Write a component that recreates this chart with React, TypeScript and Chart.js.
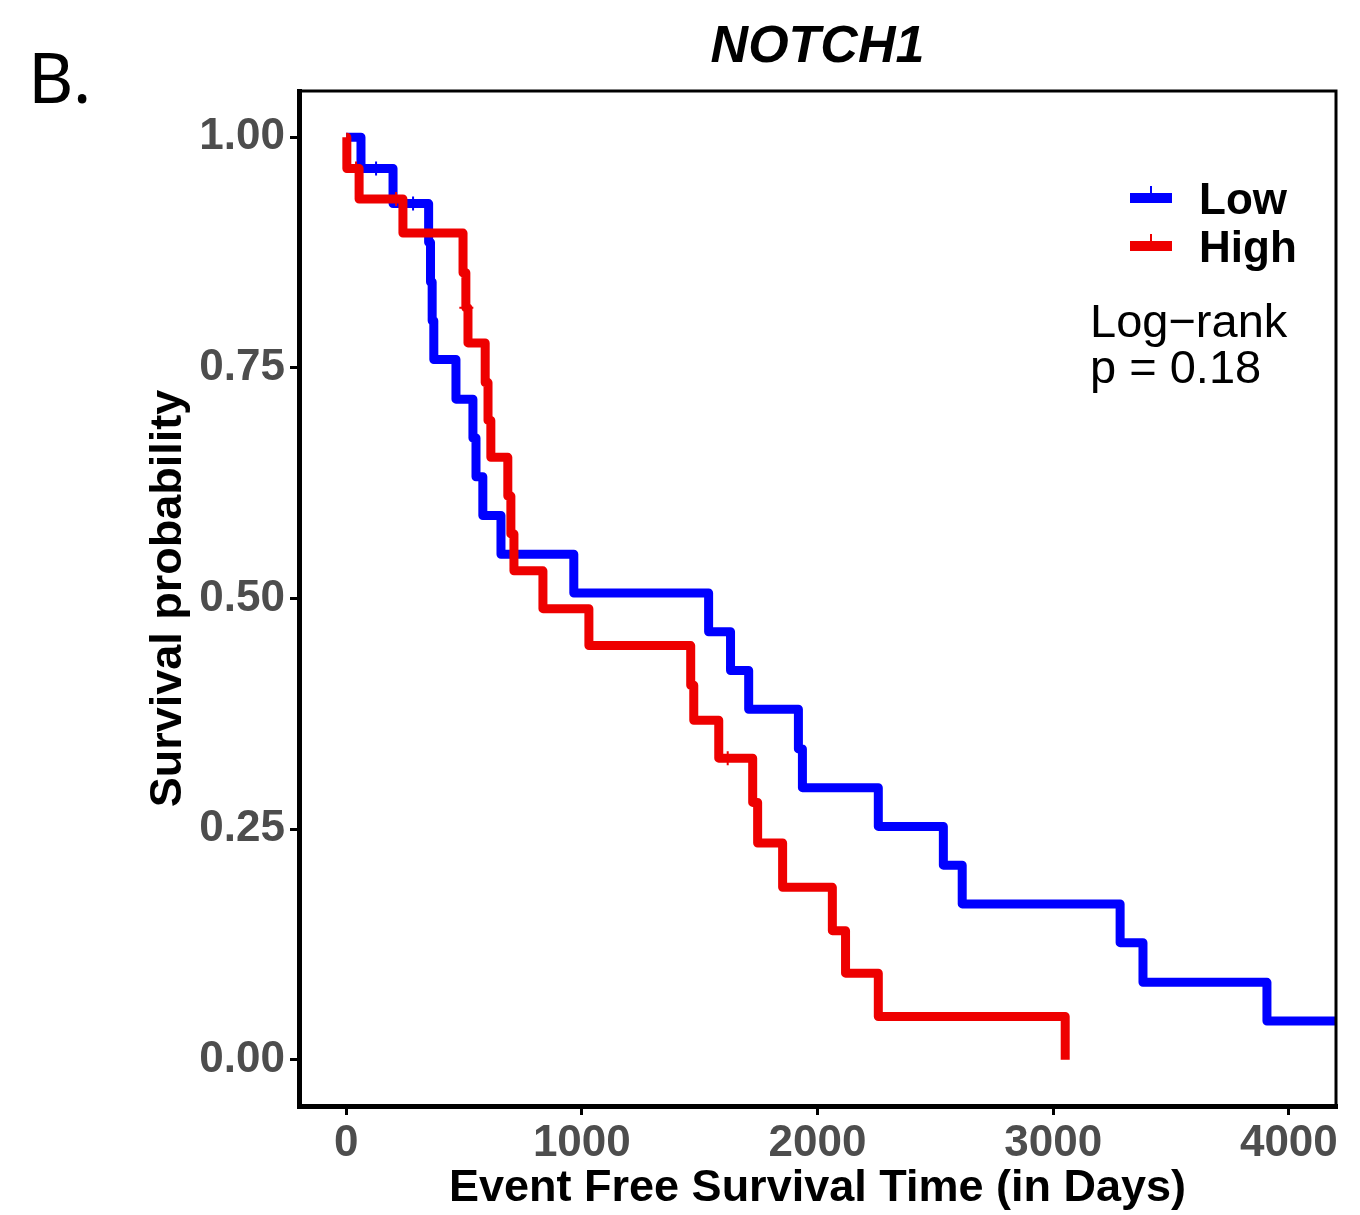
import React, { useEffect, useRef } from 'react';
import { Chart, registerables } from 'chart.js';

Chart.register(...registerables);

// ---- data ----
const lowTime = [0, 63, 199, 350, 358, 365, 372, 466, 538, 551, 580, 657, 966, 1538, 1631, 1708, 1919, 1936, 2258, 2534, 2614, 3284, 3381, 3907, 4200];
const lowSurv = [1.0, 0.966, 0.928, 0.886, 0.843, 0.801, 0.759, 0.716, 0.674, 0.632, 0.59, 0.548, 0.506, 0.464, 0.422, 0.38, 0.337, 0.295, 0.253, 0.211, 0.169, 0.127, 0.084, 0.042, 0.042];
const highTime = [0, 3, 55, 241, 496, 508, 517, 590, 602, 614, 686, 699, 712, 835, 1030, 1462, 1475, 1581, 1725, 1746, 1852, 2063, 2119, 2258, 3051];
const highSurv = [1.0, 0.966, 0.933, 0.896, 0.853, 0.815, 0.777, 0.734, 0.693, 0.653, 0.611, 0.57, 0.53, 0.489, 0.449, 0.406, 0.368, 0.327, 0.279, 0.235, 0.187, 0.14, 0.094, 0.047, 0.0];
const lowCensorTime = [127, 284];
const lowCensorSurv = [0.966, 0.928];
const highCensorTime = [42, 212, 510, 1619];
const highCensorSurv = [0.966, 0.933, 0.815, 0.327];
const xTicks = [0, 1000, 2000, 3000, 4000];
const yTicks = [0, 0.25, 0.5, 0.75, 1.0];
const groupLabels = ['Low', 'High'];
const groupColors = ['#0000FF', '#EE0000'];
const titleText = 'NOTCH1';
const panelLabel = 'B.';
const pValueLines = ['Log\u2212rank', 'p = 0.18'];
const xTitle = 'Event Free Survival Time (in Days)';
const yTitle = 'Survival probability';

const FONT = '"Liberation Sans", Arial, sans-serif';

const toPoints = (xs: number[], ys: number[]) => xs.map((x, i) => ({ x, y: ys[i] }));

const overlay = {
  id: 'overlay',
  afterDraw(chart: any) {
    const ctx = chart.ctx as CanvasRenderingContext2D;
    const a = chart.chartArea;
    ctx.save();
    // panel border
    ctx.strokeStyle = '#000';
    ctx.lineWidth = 3;
    ctx.strokeRect(a.left, a.top, a.right - a.left, a.bottom - a.top);
    // title
    ctx.fillStyle = '#000';
    ctx.textAlign = 'center';
    ctx.textBaseline = 'alphabetic';
    ctx.font = `italic bold 52px ${FONT}`;
    ctx.fillText(titleText, (a.left + a.right) / 2, 62);
    // panel label
    ctx.textAlign = 'left';
    ctx.font = `70px "Noto Sans", sans-serif`;
    ctx.fillText(panelLabel, 28, 103);
    // x title
    ctx.textAlign = 'center';
    ctx.font = `bold 45px ${FONT}`;
    ctx.fillText(xTitle, (a.left + a.right) / 2, 1201);
    // y title
    ctx.save();
    ctx.translate(181, (a.top + a.bottom) / 2);
    ctx.rotate(-Math.PI / 2);
    ctx.fillText(yTitle, 0, 0);
    ctx.restore();
    // legend
    const ly = [198, 246];
    groupLabels.forEach((lab, i) => {
      ctx.strokeStyle = groupColors[i];
      ctx.lineWidth = 10;
      ctx.lineCap = 'butt';
      ctx.beginPath();
      ctx.moveTo(1130, ly[i]);
      ctx.lineTo(1172, ly[i]);
      ctx.stroke();
      ctx.lineWidth = 2;
      ctx.beginPath();
      ctx.moveTo(1151, ly[i] - 12);
      ctx.lineTo(1151, ly[i]);
      ctx.stroke();
      ctx.fillStyle = '#000';
      ctx.textAlign = 'left';
      ctx.font = `bold 44px ${FONT}`;
      ctx.fillText(lab, 1199, ly[i] + 16);
    });
    // log-rank
    ctx.font = `47px ${FONT}`;
    ctx.fillText(pValueLines[0], 1090, 337);
    ctx.fillText(pValueLines[1], 1090, 383);
    ctx.restore();
  },
};

export default function App() {
  const ref = useRef<HTMLCanvasElement | null>(null);
  useEffect(() => {
    if (!ref.current) return;
    const chart = new Chart(ref.current, {
      type: 'line',
      data: {
        datasets: [
          {
            label: groupLabels[1],
            data: toPoints(highTime, highSurv),
            borderColor: groupColors[1],
            borderWidth: 9,
            stepped: 'before',
            pointRadius: 0,
            fill: false,
            borderJoinStyle: 'round',
            borderCapStyle: 'butt',
            order: 1,
          },
          {
            label: groupLabels[0],
            data: toPoints(lowTime, lowSurv),
            borderColor: groupColors[0],
            borderWidth: 9,
            stepped: 'before',
            pointRadius: 0,
            fill: false,
            borderJoinStyle: 'round',
            borderCapStyle: 'butt',
            order: 2,
          },
          {
            label: 'lowCensor',
            data: toPoints(lowCensorTime, lowCensorSurv),
            showLine: false,
            pointStyle: 'cross',
            pointRadius: 7,
            pointBorderWidth: 2,
            pointBorderColor: groupColors[0],
            borderColor: groupColors[0],
            order: 3,
          },
          {
            label: 'highCensor',
            data: toPoints(highCensorTime, highCensorSurv),
            showLine: false,
            pointStyle: 'cross',
            pointRadius: 7,
            pointBorderWidth: 2,
            pointBorderColor: groupColors[1],
            borderColor: groupColors[1],
            order: 0,
          },
        ],
      } as any,
      options: {
        animation: false,
        responsive: false,
        devicePixelRatio: 1,
        layout: { padding: { left: 0, right: 24, top: 91, bottom: 0 } },
        plugins: { legend: { display: false }, tooltip: { enabled: false }, title: { display: false } },
        scales: {
          x: {
            type: 'linear',
            min: -200,
            max: 4200,
            afterFit: (s: any) => { s.height = 109; },
            afterBuildTicks: (s: any) => { s.ticks = xTicks.map((v) => ({ value: v })); },
            grid: { display: true, drawOnChartArea: false, drawTicks: true, tickLength: 9, color: '#000', lineWidth: 3 },
            border: { display: true, color: '#000', width: 5 },
            ticks: {
              color: '#4D4D4D',
              font: { family: FONT, size: 44, weight: 'bold' },
              padding: 2,
              maxRotation: 0,
              callback: (v: any) => String(v),
            },
          },
          y: {
            type: 'linear',
            min: -0.05,
            max: 1.05,
            afterFit: (s: any) => { s.width = 299; },
            afterBuildTicks: (s: any) => { s.ticks = yTicks.map((v) => ({ value: v })); },
            grid: { display: true, drawOnChartArea: false, drawTicks: true, tickLength: 9, color: '#000', lineWidth: 3 },
            border: { display: true, color: '#000', width: 5 },
            ticks: {
              color: '#4D4D4D',
              font: { family: FONT, size: 44, weight: 'bold' },
              padding: 5,
              callback: (v: any) => Number(v).toFixed(2),
            },
          },
        },
      } as any,
      plugins: [overlay],
    });
    return () => chart.destroy();
  }, []);
  return (
    <div style={{ position: 'absolute', left: 0, top: 0, width: 1360, height: 1215, background: '#fff' }}>
      <canvas ref={ref} width={1360} height={1215} style={{ width: 1360, height: 1215 }} />
    </div>
  );
}
